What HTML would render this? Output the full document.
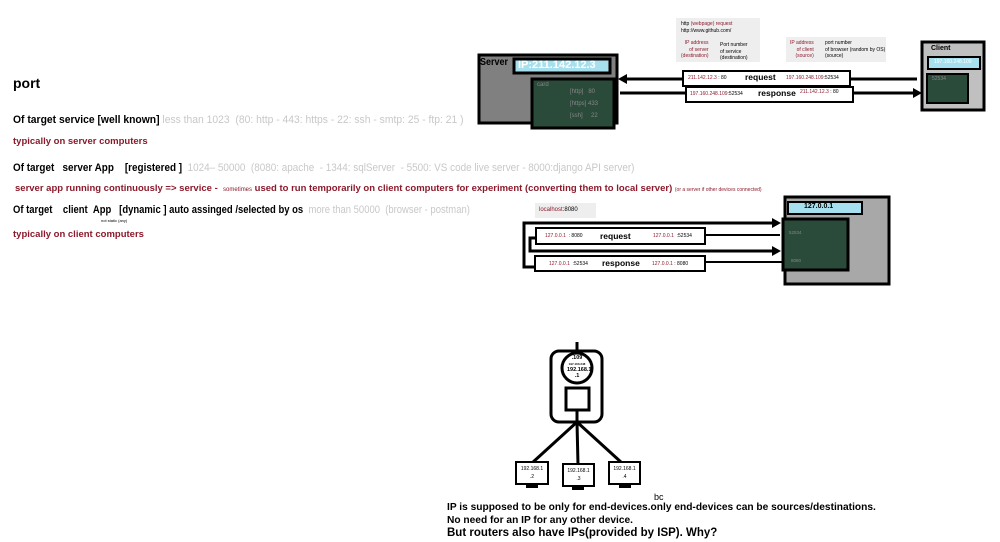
<!DOCTYPE html>
<html><head><meta charset="utf-8"><style>
body{margin:0;width:1000px;height:542px;background:#fff;position:relative;overflow:hidden;font-family:"Liberation Sans",sans-serif}
.a{position:absolute;white-space:nowrap;transform-origin:0 0}
.b{font-weight:bold}
.g{color:#c8c8c8}
.r{color:#8b1a2b;font-weight:bold}
svg{position:absolute;left:0;top:0}
</style></head><body>
<svg width="1000" height="542">
<rect x="479" y="55" width="138" height="68" fill="#808080" stroke="#000" stroke-width="3"/>
<rect x="514" y="59" width="96" height="14" fill="#a6e0ee" stroke="#000" stroke-width="3"/>
<rect x="532" y="79" width="82" height="49" fill="#2a4a3a" stroke="#000" stroke-width="3"/>
<rect x="922" y="42" width="62" height="68" fill="#c0c0c0" stroke="#000" stroke-width="3"/>
<rect x="928" y="57" width="52" height="12" fill="#a6e0ee" stroke="#000" stroke-width="2"/>
<rect x="927" y="74" width="41" height="29" fill="#2a4a3a" stroke="#000" stroke-width="2"/>
<rect x="676" y="18" width="84" height="44" fill="#eee"/>
<rect x="786" y="37" width="100" height="25" fill="#eee"/>
<line x1="625" y1="79" x2="917" y2="79" stroke="#000" stroke-width="3"/>
<polygon points="618,79 627,74 627,84" fill="#000"/>
<line x1="620" y1="93" x2="914" y2="93" stroke="#000" stroke-width="3"/>
<polygon points="922,93 913,88 913,98" fill="#000"/>
<rect x="683" y="71" width="167" height="15" fill="#fff" stroke="#000" stroke-width="2"/>
<rect x="686" y="87" width="167" height="15" fill="#fff" stroke="#000" stroke-width="2"/>
<rect x="785" y="197" width="104" height="87" fill="#a8a8a8" stroke="#000" stroke-width="3"/>
<rect x="788" y="202" width="74" height="12" fill="#a6e0ee" stroke="#000" stroke-width="2"/>
<rect x="783" y="219" width="65" height="51" fill="#2a4a3a" stroke="#000" stroke-width="3"/>
<rect x="535" y="203" width="61" height="15" fill="#eee"/>
<polyline points="534,267 524,267 524,223 775,223" fill="none" stroke="#000" stroke-width="3"/>
<polygon points="781,223 772,218 772,228" fill="#000"/>
<polyline points="536,238 530,238 530,251 775,251" fill="none" stroke="#000" stroke-width="3"/>
<polygon points="781,251 772,246 772,256" fill="#000"/>
<line x1="705" y1="235" x2="780" y2="235" stroke="#000" stroke-width="2"/>
<line x1="705" y1="262" x2="782" y2="262" stroke="#000" stroke-width="2"/>
<rect x="536" y="228" width="169" height="16" fill="#fff" stroke="#000" stroke-width="2"/>
<rect x="535" y="256" width="170" height="15" fill="#fff" stroke="#000" stroke-width="2"/>
<line x1="577" y1="342" x2="577" y2="352" stroke="#000" stroke-width="3"/>
<rect x="551" y="351" width="51" height="71" rx="8" fill="#fff" stroke="#000" stroke-width="3"/>
<circle cx="577" cy="368" r="15" fill="#fff" stroke="#000" stroke-width="3"/>
<rect x="566" y="388" width="23" height="22" fill="#fff" stroke="#000" stroke-width="3"/>
<line x1="577" y1="410" x2="577" y2="422" stroke="#000" stroke-width="3"/>
<line x1="577" y1="422" x2="532" y2="463" stroke="#000" stroke-width="3"/>
<line x1="577" y1="422" x2="578" y2="465" stroke="#000" stroke-width="3"/>
<line x1="577" y1="422" x2="622" y2="463" stroke="#000" stroke-width="3"/>
<rect x="516" y="462" width="32" height="22" fill="#fff" stroke="#000" stroke-width="2"/>
<rect x="526" y="484" width="12" height="4" fill="#000"/>
<rect x="563" y="464" width="31" height="22" fill="#fff" stroke="#000" stroke-width="2"/>
<rect x="572" y="486" width="12" height="4" fill="#000"/>
<rect x="609" y="462" width="31" height="22" fill="#fff" stroke="#000" stroke-width="2"/>
<rect x="619" y="484" width="12" height="4" fill="#000"/>
</svg>

<div class="a b" style="left:13px;top:75px;font-size:14px">port</div>
<div class="a" style="left:13px;top:114px;font-size:11px;transform:scaleX(0.94)"><b>Of target service [well known]</b> <span class="g">less than 1023 &nbsp;(80: http - 443: https - 22: ssh - smtp: 25 - ftp: 21 )</span></div>
<div class="a r" style="left:13px;top:136px;font-size:9.5px">typically on server computers</div>
<div class="a" style="left:13px;top:162px;font-size:11px;transform:scaleX(0.9)"><b>Of target &nbsp; server App &nbsp;&nbsp; [registered ]</b> <span class="g">&nbsp;1024– 50000 &nbsp;(8080: apache &nbsp;- 1344: sqlServer &nbsp;- 5500: VS code live server - 8000:django API server)</span></div>
<div class="a r" style="left:15px;top:183px;font-size:9.5px">server app running continuously =&gt; service - &nbsp;<span style="font-size:6px;font-weight:normal">sometimes</span> used to run temporarily on client computers for experiment (converting them to local server) <span style="font-size:5px;font-weight:normal">(or a server if other devices connected)</span></div>
<div class="a" style="left:13px;top:204px;font-size:11px;transform:scaleX(0.86)"><b>Of target &nbsp;&nbsp; client &nbsp;App &nbsp;&nbsp;[dynamic ] auto assinged /selected by os</b> <span class="g">&nbsp;more than 50000 &nbsp;(browser - postman)</span></div>
<div class="a" style="left:101px;top:218px;font-size:4px">not static (any)</div>
<div class="a r" style="left:13px;top:229px;font-size:9.5px">typically on client computers</div>

<div class="a b" style="left:480px;top:57px;font-size:10px;transform:scaleX(0.9)">Server</div>
<div class="a b" style="left:518px;top:59px;font-size:11px;color:#fff">IP:211.142.12.3</div>
<div class="a" style="left:537px;top:82px;font-size:6px;color:#888">card</div>
<div class="a" style="left:570px;top:86px;font-size:6px;color:#888;line-height:12px">[http] &nbsp; 80<br>[https] 433<br>[ssh] &nbsp; &nbsp; 22</div>
<div class="a b" style="left:931px;top:45px;font-size:7px">Client</div>
<div class="a" style="left:934px;top:59px;font-size:5px;color:#fff">197.160.248.109</div>
<div class="a" style="left:932px;top:76px;font-size:5px;color:#888">52534</div>

<div class="a" style="left:681px;top:21px;font-size:5px;line-height:7px">http <span style="color:#8b1a2b">(webpage) request</span><br>http://www.github.com/</div>
<div class="a" style="left:681px;top:40px;font-size:5px;line-height:6.5px;color:#8b1a2b;text-align:right">IP address<br>of server<br>(destination)</div>
<div class="a" style="left:720px;top:42px;font-size:5px;line-height:6.5px">Port number<br>of service<br>(destination)</div>
<div class="a" style="left:790px;top:40px;font-size:5px;line-height:6.5px;color:#8b1a2b;text-align:right">IP address<br>of client<br>(source)</div>
<div class="a" style="left:825px;top:40px;font-size:5px;line-height:6.5px">port number<br>of browser (random by OS)<br>(source)</div>

<div class="a" style="left:688px;top:75px;font-size:5px"><span style="color:#8b1a2b">211.142.12.3</span> : 80</div>
<div class="a b" style="left:745px;top:72px;font-size:8.5px">request</div>
<div class="a" style="left:786px;top:75px;font-size:5px"><span style="color:#8b1a2b">197.160.248.109</span>:52534</div>
<div class="a" style="left:690px;top:91px;font-size:5px"><span style="color:#8b1a2b">197.160.248.109</span>:52534</div>
<div class="a b" style="left:758px;top:88px;font-size:8.5px">response</div>
<div class="a" style="left:800px;top:89px;font-size:5px"><span style="color:#8b1a2b">211.142.12.3</span> : 80</div>

<div class="a" style="left:539px;top:207px;font-size:6px"><span style="color:#8b1a2b">localhost</span>:8080</div>
<div class="a b" style="left:804px;top:203px;font-size:7px">127.0.0.1</div>
<div class="a" style="left:789px;top:230px;font-size:4.5px;color:#888">52534</div>
<div class="a" style="left:791px;top:258px;font-size:4.5px;color:#888">8080</div>
<div class="a" style="left:545px;top:233px;font-size:5px"><span style="color:#8b1a2b">127.0.0.1</span> &nbsp;: 8080</div>
<div class="a b" style="left:600px;top:231px;font-size:8.5px">request</div>
<div class="a" style="left:653px;top:233px;font-size:5px"><span style="color:#8b1a2b">127.0.0.1</span> &nbsp;:52534</div>
<div class="a" style="left:549px;top:261px;font-size:5px"><span style="color:#8b1a2b">127.0.0.1</span> &nbsp;:52534</div>
<div class="a b" style="left:602px;top:258px;font-size:8.5px">response</div>
<div class="a" style="left:652px;top:261px;font-size:5px"><span style="color:#8b1a2b">127.0.0.1</span> : 8080</div>

<div class="a b" style="left:567px;top:355px;font-size:5.5px;text-align:center;width:20px;line-height:6px">.109<br><span style="font-size:3px">197.160.248</span><br>192.168.1<br>.1</div>
<div class="a" style="left:516px;top:465px;width:32px;text-align:center;font-size:5px;line-height:8px">192.168.1<br>.2</div>
<div class="a" style="left:563px;top:467px;width:31px;text-align:center;font-size:5px;line-height:8px">192.168.1<br>.3</div>
<div class="a" style="left:609px;top:465px;width:31px;text-align:center;font-size:5px;line-height:8px">192.168.1<br>.4</div>

<div class="a" style="left:654px;top:492px;font-size:9px">bc</div>
<div class="a b" style="left:447px;top:501px;font-size:10.5px;line-height:12.5px;transform:scaleX(0.97)">IP is supposed to be only for end-devices.only end-devices can be sources/destinations.<br>No need for an IP for any other device.</div>
<div class="a b" style="left:447px;top:527px;font-size:11.5px">But routers also have IPs(provided by ISP). Why?</div>
</body></html>
